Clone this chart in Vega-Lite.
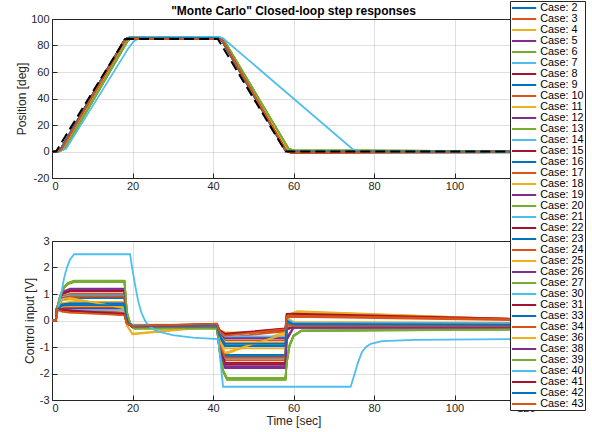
{
"$schema":"https://vega.github.io/schema/vega-lite/v6.json",
"padding":{"left":15,"top":0,"right":1,"bottom":2},
"bounds":"flush",
"spacing":63,
"config":{
 "font":"Liberation Sans",
 "view":{"stroke":"#262626","strokeWidth":1},
 "axis":{"domain":false,"grid":true,"gridColor":"#262626","gridOpacity":0.15,"gridWidth":1,"tickColor":"#262626","tickSize":-5,"tickWidth":1,"labelColor":"#262626","labelFontSize":11,"labelFont":"Liberation Sans","titleFont":"Liberation Sans","titleFontSize":12,"titleFontWeight":"normal","titleColor":"#262626","labelOverlap":false}
},
"datasets":{
"ref":[{"t":0,"v":0},{"t":1,"v":0},{"t":18.2,"v":85},{"t":41.2,"v":85},{"t":58,"v":0},{"t":120,"v":0}],
"pos":[
{"c":2,"t":0,"v":0},{"c":2,"t":1.2,"v":0},{"c":2,"t":2.2,"v":2},{"c":2,"t":18,"v":84},{"c":2,"t":18.8,"v":85.5},{"c":2,"t":41.3,"v":85.5},{"c":2,"t":42.2,"v":84},{"c":2,"t":58,"v":1},{"c":2,"t":59,"v":0},{"c":2,"t":120,"v":0},
{"c":3,"t":0,"v":0},{"c":3,"t":1.3,"v":0},{"c":3,"t":2.4,"v":2},{"c":3,"t":18.1,"v":84},{"c":3,"t":19,"v":85},{"c":3,"t":41.4,"v":85},{"c":3,"t":42.3,"v":84},{"c":3,"t":58.2,"v":0.5},{"c":3,"t":59.2,"v":-0.6},{"c":3,"t":120,"v":-0.5},
{"c":4,"t":0,"v":0},{"c":4,"t":1.4,"v":0},{"c":4,"t":2.6,"v":2},{"c":4,"t":18.3,"v":84},{"c":4,"t":19.2,"v":86},{"c":4,"t":41.5,"v":86},{"c":4,"t":42.4,"v":84},{"c":4,"t":58.4,"v":1.5},{"c":4,"t":59.5,"v":0.3},{"c":4,"t":120,"v":0.2},
{"c":5,"t":0,"v":0},{"c":5,"t":1.2,"v":0},{"c":5,"t":2.2,"v":2},{"c":5,"t":18,"v":84},{"c":5,"t":18.8,"v":85.5},{"c":5,"t":41.3,"v":85.5},{"c":5,"t":42.2,"v":84},{"c":5,"t":58,"v":1},{"c":5,"t":59,"v":0},{"c":5,"t":120,"v":0},
{"c":6,"t":0,"v":0},{"c":6,"t":1.6,"v":0},{"c":6,"t":3.2,"v":2},{"c":6,"t":18.8,"v":83.5},{"c":6,"t":19.8,"v":86},{"c":6,"t":41.7,"v":86},{"c":6,"t":42.7,"v":84},{"c":6,"t":58.8,"v":2},{"c":6,"t":60,"v":0.8},{"c":6,"t":120,"v":0.3},
{"c":7,"t":0,"v":0},{"c":7,"t":1.4,"v":0},{"c":7,"t":2.6,"v":2},{"c":7,"t":18.3,"v":84},{"c":7,"t":19.2,"v":86},{"c":7,"t":41.5,"v":86},{"c":7,"t":42.4,"v":84},{"c":7,"t":58.4,"v":1.5},{"c":7,"t":59.5,"v":0.3},{"c":7,"t":120,"v":0.2},
{"c":8,"t":0,"v":0},{"c":8,"t":1.3,"v":0},{"c":8,"t":2.4,"v":2},{"c":8,"t":18.1,"v":84},{"c":8,"t":19,"v":85},{"c":8,"t":41.4,"v":85},{"c":8,"t":42.3,"v":84},{"c":8,"t":58.2,"v":0.5},{"c":8,"t":59.2,"v":-0.6},{"c":8,"t":120,"v":-0.5},
{"c":9,"t":0,"v":0},{"c":9,"t":1.4,"v":0},{"c":9,"t":2.6,"v":2},{"c":9,"t":18.3,"v":84},{"c":9,"t":19.2,"v":86},{"c":9,"t":41.5,"v":86},{"c":9,"t":42.4,"v":84},{"c":9,"t":58.4,"v":1.5},{"c":9,"t":59.5,"v":0.3},{"c":9,"t":120,"v":0.2},
{"c":10,"t":0,"v":0},{"c":10,"t":1.2,"v":0},{"c":10,"t":2.2,"v":2},{"c":10,"t":18,"v":84},{"c":10,"t":18.8,"v":85.5},{"c":10,"t":41.3,"v":85.5},{"c":10,"t":42.2,"v":84},{"c":10,"t":58,"v":1},{"c":10,"t":59,"v":0},{"c":10,"t":120,"v":0},
{"c":11,"t":0,"v":0},{"c":11,"t":1.2,"v":0},{"c":11,"t":2.2,"v":2},{"c":11,"t":18,"v":84},{"c":11,"t":18.8,"v":85.5},{"c":11,"t":41.3,"v":85.5},{"c":11,"t":42.2,"v":84},{"c":11,"t":58,"v":1},{"c":11,"t":59,"v":0},{"c":11,"t":120,"v":0},
{"c":12,"t":0,"v":0},{"c":12,"t":1.4,"v":0},{"c":12,"t":2.6,"v":2},{"c":12,"t":18.3,"v":84},{"c":12,"t":19.2,"v":86},{"c":12,"t":41.5,"v":86},{"c":12,"t":42.4,"v":84},{"c":12,"t":58.4,"v":1.5},{"c":12,"t":59.5,"v":0.3},{"c":12,"t":120,"v":0.2},
{"c":13,"t":0,"v":0},{"c":13,"t":1.6,"v":0},{"c":13,"t":3.2,"v":2},{"c":13,"t":18.8,"v":83.5},{"c":13,"t":19.8,"v":86},{"c":13,"t":41.7,"v":86},{"c":13,"t":42.7,"v":84},{"c":13,"t":58.8,"v":2},{"c":13,"t":60,"v":0.8},{"c":13,"t":120,"v":0.3},
{"c":14,"t":0,"v":0},{"c":14,"t":1.4,"v":0},{"c":14,"t":2.6,"v":2},{"c":14,"t":18.3,"v":84},{"c":14,"t":19.2,"v":86},{"c":14,"t":41.5,"v":86},{"c":14,"t":42.4,"v":84},{"c":14,"t":58.4,"v":1.5},{"c":14,"t":59.5,"v":0.3},{"c":14,"t":120,"v":0.2},
{"c":15,"t":0,"v":0},{"c":15,"t":1.3,"v":0},{"c":15,"t":2.4,"v":2},{"c":15,"t":18.1,"v":84},{"c":15,"t":19,"v":85},{"c":15,"t":41.4,"v":85},{"c":15,"t":42.3,"v":84},{"c":15,"t":58.2,"v":0.5},{"c":15,"t":59.2,"v":-0.6},{"c":15,"t":120,"v":-0.5},
{"c":16,"t":0,"v":0},{"c":16,"t":1.2,"v":0},{"c":16,"t":2.2,"v":2},{"c":16,"t":18,"v":84},{"c":16,"t":18.8,"v":85.5},{"c":16,"t":41.3,"v":85.5},{"c":16,"t":42.2,"v":84},{"c":16,"t":58,"v":1},{"c":16,"t":59,"v":0},{"c":16,"t":120,"v":0},
{"c":17,"t":0,"v":0},{"c":17,"t":1.3,"v":0},{"c":17,"t":2.4,"v":2},{"c":17,"t":18.1,"v":84},{"c":17,"t":19,"v":85},{"c":17,"t":41.4,"v":85},{"c":17,"t":42.3,"v":84},{"c":17,"t":58.2,"v":0.5},{"c":17,"t":59.2,"v":-0.6},{"c":17,"t":120,"v":-0.5},
{"c":18,"t":0,"v":0},{"c":18,"t":1.4,"v":0},{"c":18,"t":2.6,"v":2},{"c":18,"t":18.3,"v":84},{"c":18,"t":19.2,"v":86},{"c":18,"t":41.5,"v":86},{"c":18,"t":42.4,"v":84},{"c":18,"t":58.4,"v":1.5},{"c":18,"t":59.5,"v":0.3},{"c":18,"t":120,"v":0.2},
{"c":19,"t":0,"v":0},{"c":19,"t":1.2,"v":0},{"c":19,"t":2.2,"v":2},{"c":19,"t":18,"v":84},{"c":19,"t":18.8,"v":85.5},{"c":19,"t":41.3,"v":85.5},{"c":19,"t":42.2,"v":84},{"c":19,"t":58,"v":1},{"c":19,"t":59,"v":0},{"c":19,"t":120,"v":0},
{"c":20,"t":0,"v":0},{"c":20,"t":1.6,"v":0},{"c":20,"t":3.2,"v":2},{"c":20,"t":18.8,"v":83.5},{"c":20,"t":19.8,"v":86},{"c":20,"t":41.7,"v":86},{"c":20,"t":42.7,"v":84},{"c":20,"t":58.8,"v":2},{"c":20,"t":60,"v":0.8},{"c":20,"t":120,"v":0.3},
{"c":21,"t":0,"v":0},{"c":21,"t":1.4,"v":0},{"c":21,"t":2.6,"v":2},{"c":21,"t":18.3,"v":84},{"c":21,"t":19.2,"v":86},{"c":21,"t":41.5,"v":86},{"c":21,"t":42.4,"v":84},{"c":21,"t":58.4,"v":1.5},{"c":21,"t":59.5,"v":0.3},{"c":21,"t":120,"v":0.2},
{"c":22,"t":0,"v":0},{"c":22,"t":1.2,"v":0},{"c":22,"t":2.2,"v":2},{"c":22,"t":18,"v":84},{"c":22,"t":18.8,"v":85.5},{"c":22,"t":41.3,"v":85.5},{"c":22,"t":42.2,"v":84},{"c":22,"t":58,"v":1},{"c":22,"t":59,"v":0},{"c":22,"t":120,"v":0},
{"c":23,"t":0,"v":0},{"c":23,"t":1.4,"v":0},{"c":23,"t":2.6,"v":2},{"c":23,"t":18.3,"v":84},{"c":23,"t":19.2,"v":86},{"c":23,"t":41.5,"v":86},{"c":23,"t":42.4,"v":84},{"c":23,"t":58.4,"v":1.5},{"c":23,"t":59.5,"v":0.3},{"c":23,"t":120,"v":0.2},
{"c":24,"t":0,"v":0},{"c":24,"t":1.4,"v":0},{"c":24,"t":2.6,"v":2},{"c":24,"t":18.3,"v":84},{"c":24,"t":19.2,"v":86},{"c":24,"t":41.5,"v":86},{"c":24,"t":42.4,"v":84},{"c":24,"t":58.4,"v":1.5},{"c":24,"t":59.5,"v":0.3},{"c":24,"t":120,"v":0.2},
{"c":25,"t":0,"v":0},{"c":25,"t":1.2,"v":0},{"c":25,"t":2.2,"v":2},{"c":25,"t":18,"v":84},{"c":25,"t":18.8,"v":85.5},{"c":25,"t":41.3,"v":85.5},{"c":25,"t":42.2,"v":84},{"c":25,"t":58,"v":1},{"c":25,"t":59,"v":0},{"c":25,"t":120,"v":0},
{"c":26,"t":0,"v":0},{"c":26,"t":1.4,"v":0},{"c":26,"t":2.6,"v":2},{"c":26,"t":18.3,"v":84},{"c":26,"t":19.2,"v":86},{"c":26,"t":41.5,"v":86},{"c":26,"t":42.4,"v":84},{"c":26,"t":58.4,"v":1.5},{"c":26,"t":59.5,"v":0.3},{"c":26,"t":120,"v":0.2},
{"c":27,"t":0,"v":0},{"c":27,"t":1.6,"v":0},{"c":27,"t":3.2,"v":2},{"c":27,"t":18.8,"v":83.5},{"c":27,"t":19.8,"v":86},{"c":27,"t":41.7,"v":86},{"c":27,"t":42.7,"v":84},{"c":27,"t":58.8,"v":2},{"c":27,"t":60,"v":0.8},{"c":27,"t":120,"v":0.3},
{"c":30,"t":0,"v":0},{"c":30,"t":1.4,"v":0},{"c":30,"t":2.6,"v":2},{"c":30,"t":18.3,"v":84},{"c":30,"t":19.2,"v":86},{"c":30,"t":41.5,"v":86},{"c":30,"t":42.4,"v":84},{"c":30,"t":58.4,"v":1.5},{"c":30,"t":59.5,"v":0.3},{"c":30,"t":120,"v":0.2},
{"c":31,"t":0,"v":0},{"c":31,"t":1.3,"v":0},{"c":31,"t":2.4,"v":2},{"c":31,"t":18.1,"v":84},{"c":31,"t":19,"v":85},{"c":31,"t":41.4,"v":85},{"c":31,"t":42.3,"v":84},{"c":31,"t":58.2,"v":0.5},{"c":31,"t":59.2,"v":-0.6},{"c":31,"t":120,"v":-0.5},
{"c":33,"t":0,"v":0},{"c":33,"t":1.2,"v":0},{"c":33,"t":2.2,"v":2},{"c":33,"t":18,"v":84},{"c":33,"t":18.8,"v":85.5},{"c":33,"t":41.3,"v":85.5},{"c":33,"t":42.2,"v":84},{"c":33,"t":58,"v":1},{"c":33,"t":59,"v":0},{"c":33,"t":120,"v":0},
{"c":34,"t":0,"v":0},{"c":34,"t":1.3,"v":0},{"c":34,"t":2.4,"v":2},{"c":34,"t":18.1,"v":84},{"c":34,"t":19,"v":85},{"c":34,"t":41.4,"v":85},{"c":34,"t":42.3,"v":84},{"c":34,"t":58.2,"v":0.5},{"c":34,"t":59.2,"v":-0.6},{"c":34,"t":120,"v":-0.5},
{"c":36,"t":0,"v":0},{"c":36,"t":1.4,"v":0},{"c":36,"t":2.6,"v":2},{"c":36,"t":18.3,"v":84},{"c":36,"t":19.2,"v":86},{"c":36,"t":41.5,"v":86},{"c":36,"t":42.4,"v":84},{"c":36,"t":58.4,"v":1.5},{"c":36,"t":59.5,"v":0.3},{"c":36,"t":120,"v":0.2},
{"c":38,"t":0,"v":0},{"c":38,"t":1.2,"v":0},{"c":38,"t":2.2,"v":2},{"c":38,"t":18,"v":84},{"c":38,"t":18.8,"v":85.5},{"c":38,"t":41.3,"v":85.5},{"c":38,"t":42.2,"v":84},{"c":38,"t":58,"v":1},{"c":38,"t":59,"v":0},{"c":38,"t":120,"v":0},
{"c":39,"t":0,"v":0},{"c":39,"t":1.6,"v":0},{"c":39,"t":3.2,"v":2},{"c":39,"t":18.8,"v":83.5},{"c":39,"t":19.8,"v":86},{"c":39,"t":41.7,"v":86},{"c":39,"t":42.7,"v":84},{"c":39,"t":58.8,"v":2},{"c":39,"t":60,"v":0.8},{"c":39,"t":120,"v":0.3},
{"c":40,"t":0,"v":0},{"c":40,"t":1.5,"v":0},{"c":40,"t":3.5,"v":2},{"c":40,"t":19,"v":78},{"c":40,"t":20.3,"v":83},{"c":40,"t":21.8,"v":86},{"c":40,"t":41.5,"v":86.5},{"c":40,"t":42.5,"v":85.5},{"c":40,"t":75,"v":1},{"c":40,"t":76.5,"v":-0.6},{"c":40,"t":85,"v":-1},{"c":40,"t":120,"v":-1},
{"c":41,"t":0,"v":0},{"c":41,"t":1.3,"v":0},{"c":41,"t":2.4,"v":2},{"c":41,"t":18.1,"v":84},{"c":41,"t":19,"v":85},{"c":41,"t":41.4,"v":85},{"c":41,"t":42.3,"v":84},{"c":41,"t":58.2,"v":0.5},{"c":41,"t":59.2,"v":-0.6},{"c":41,"t":120,"v":-0.5},
{"c":42,"t":0,"v":0},{"c":42,"t":1.2,"v":0},{"c":42,"t":2.2,"v":2},{"c":42,"t":18,"v":84},{"c":42,"t":18.8,"v":85.5},{"c":42,"t":41.3,"v":85.5},{"c":42,"t":42.2,"v":84},{"c":42,"t":58,"v":1},{"c":42,"t":59,"v":0},{"c":42,"t":120,"v":0},
{"c":43,"t":0,"v":0},{"c":43,"t":1.3,"v":0},{"c":43,"t":2.4,"v":2},{"c":43,"t":18.1,"v":84},{"c":43,"t":19,"v":85},{"c":43,"t":41.4,"v":85},{"c":43,"t":42.3,"v":84},{"c":43,"t":58.2,"v":0.5},{"c":43,"t":59.2,"v":-0.6},{"c":43,"t":120,"v":-0.5}
],
"u":[
{"c":2,"t":0,"v":0},{"c":2,"t":1,"v":0},{"c":2,"t":1.15,"v":0.4},{"c":2,"t":2.5,"v":0.58},{"c":2,"t":4.5,"v":0.62},{"c":2,"t":18,"v":0.62},{"c":2,"t":18.6,"v":-0.05},{"c":2,"t":20,"v":-0.19},{"c":2,"t":41,"v":-0.19},{"c":2,"t":41.6,"v":-0.6},{"c":2,"t":43,"v":-0.93},{"c":2,"t":58,"v":-0.93},{"c":2,"t":58.3,"v":-0.02},{"c":2,"t":60,"v":-0.14},{"c":2,"t":120,"v":-0.16},
{"c":3,"t":0,"v":0},{"c":3,"t":1,"v":0},{"c":3,"t":1.15,"v":0.42},{"c":3,"t":2.5,"v":0.85},{"c":3,"t":4.5,"v":0.92},{"c":3,"t":18,"v":0.92},{"c":3,"t":18.6,"v":-0.02},{"c":3,"t":20,"v":-0.23},{"c":3,"t":41,"v":-0.23},{"c":3,"t":41.6,"v":-0.85},{"c":3,"t":43,"v":-1.38},{"c":3,"t":58,"v":-1.38},{"c":3,"t":58.3,"v":-0.15},{"c":3,"t":60,"v":-0.2},{"c":3,"t":120,"v":-0.21},
{"c":4,"t":0,"v":0},{"c":4,"t":1,"v":0},{"c":4,"t":1.15,"v":0.45},{"c":4,"t":2.5,"v":0.76},{"c":4,"t":4.5,"v":0.8},{"c":4,"t":18,"v":0.42},{"c":4,"t":18.6,"v":-0.2},{"c":4,"t":20,"v":-0.52},{"c":4,"t":41,"v":-0.22},{"c":4,"t":41.6,"v":-0.8},{"c":4,"t":43,"v":-1.28},{"c":4,"t":58,"v":-0.42},{"c":4,"t":58.3,"v":0.2},{"c":4,"t":61,"v":0.35},{"c":4,"t":120,"v":0.02},
{"c":5,"t":0,"v":0},{"c":5,"t":1,"v":0},{"c":5,"t":1.15,"v":0.42},{"c":5,"t":2.5,"v":1.05},{"c":5,"t":4.5,"v":1.18},{"c":5,"t":18,"v":1.18},{"c":5,"t":18.6,"v":0.05},{"c":5,"t":20,"v":-0.26},{"c":5,"t":41,"v":-0.26},{"c":5,"t":41.6,"v":-1},{"c":5,"t":43,"v":-1.77},{"c":5,"t":58,"v":-1.77},{"c":5,"t":58.3,"v":-0.7},{"c":5,"t":60,"v":-0.27},{"c":5,"t":120,"v":-0.27},
{"c":6,"t":0,"v":0},{"c":6,"t":1,"v":0},{"c":6,"t":1.15,"v":0.4},{"c":6,"t":2,"v":0.9},{"c":6,"t":3,"v":1.25},{"c":6,"t":4,"v":1.4},{"c":6,"t":5.5,"v":1.48},{"c":6,"t":18,"v":1.48},{"c":6,"t":18.6,"v":0.3},{"c":6,"t":19.5,"v":-0.15},{"c":6,"t":20.5,"v":-0.3},{"c":6,"t":41,"v":-0.3},{"c":6,"t":41.6,"v":-1.1},{"c":6,"t":42.5,"v":-1.9},{"c":6,"t":43.5,"v":-2.2},{"c":6,"t":58,"v":-2.2},{"c":6,"t":58.3,"v":-1.6},{"c":6,"t":59,"v":-0.95},{"c":6,"t":60,"v":-0.58},{"c":6,"t":62,"v":-0.38},{"c":6,"t":120,"v":-0.33},
{"c":7,"t":0,"v":0},{"c":7,"t":1,"v":0},{"c":7,"t":1.15,"v":0.42},{"c":7,"t":2.5,"v":0.82},{"c":7,"t":4.5,"v":0.88},{"c":7,"t":18,"v":0.88},{"c":7,"t":18.6,"v":-0.02},{"c":7,"t":20,"v":-0.22},{"c":7,"t":41,"v":-0.22},{"c":7,"t":41.6,"v":-0.8},{"c":7,"t":43,"v":-1.32},{"c":7,"t":58,"v":-1.32},{"c":7,"t":58.3,"v":-0.12},{"c":7,"t":60,"v":-0.19},{"c":7,"t":120,"v":-0.21},
{"c":8,"t":0,"v":0},{"c":8,"t":1,"v":0},{"c":8,"t":1.15,"v":0.42},{"c":8,"t":2.5,"v":1},{"c":8,"t":4.5,"v":1.1},{"c":8,"t":18,"v":1.1},{"c":8,"t":18.6,"v":0.03},{"c":8,"t":20,"v":-0.25},{"c":8,"t":41,"v":-0.25},{"c":8,"t":41.6,"v":-0.98},{"c":8,"t":43,"v":-1.65},{"c":8,"t":58,"v":-1.65},{"c":8,"t":58.3,"v":-0.3},{"c":8,"t":60,"v":-0.24},{"c":8,"t":120,"v":-0.25},
{"c":9,"t":0,"v":0},{"c":9,"t":1,"v":0},{"c":9,"t":1.15,"v":0.42},{"c":9,"t":2.5,"v":0.8},{"c":9,"t":4.5,"v":0.85},{"c":9,"t":18,"v":0.85},{"c":9,"t":18.6,"v":-0.02},{"c":9,"t":20,"v":-0.22},{"c":9,"t":41,"v":-0.22},{"c":9,"t":41.6,"v":-0.8},{"c":9,"t":43,"v":-1.3},{"c":9,"t":58,"v":-1.3},{"c":9,"t":58.3,"v":-0.1},{"c":9,"t":60,"v":-0.18},{"c":9,"t":120,"v":-0.2},
{"c":10,"t":0,"v":0},{"c":10,"t":1,"v":0},{"c":10,"t":1.15,"v":0.42},{"c":10,"t":2.5,"v":0.48},{"c":10,"t":4.5,"v":0.5},{"c":10,"t":18,"v":0.5},{"c":10,"t":18.6,"v":-0.06},{"c":10,"t":20,"v":-0.18},{"c":10,"t":41,"v":-0.18},{"c":10,"t":41.6,"v":-0.5},{"c":10,"t":43,"v":-0.75},{"c":10,"t":58,"v":-0.75},{"c":10,"t":58.3,"v":0.05},{"c":10,"t":60,"v":-0.1},{"c":10,"t":120,"v":-0.13},
{"c":11,"t":0,"v":0},{"c":11,"t":1,"v":0},{"c":11,"t":1.15,"v":0.42},{"c":11,"t":2.5,"v":0.65},{"c":11,"t":4.5,"v":0.7},{"c":11,"t":18,"v":0.7},{"c":11,"t":18.6,"v":-0.04},{"c":11,"t":20,"v":-0.2},{"c":11,"t":41,"v":-0.2},{"c":11,"t":41.6,"v":-0.65},{"c":11,"t":43,"v":-1.05},{"c":11,"t":58,"v":-1.05},{"c":11,"t":58.3,"v":-0.05},{"c":11,"t":60,"v":-0.15},{"c":11,"t":120,"v":-0.17},
{"c":12,"t":0,"v":0},{"c":12,"t":1,"v":0},{"c":12,"t":1.15,"v":0.4},{"c":12,"t":2.5,"v":0.42},{"c":12,"t":4.5,"v":0.42},{"c":12,"t":18,"v":0.42},{"c":12,"t":18.6,"v":-0.07},{"c":12,"t":20,"v":-0.17},{"c":12,"t":41,"v":-0.17},{"c":12,"t":41.6,"v":-0.45},{"c":12,"t":43,"v":-0.63},{"c":12,"t":58,"v":-0.63},{"c":12,"t":58.3,"v":0.05},{"c":12,"t":60,"v":-0.1},{"c":12,"t":120,"v":-0.12},
{"c":13,"t":0,"v":0},{"c":13,"t":1,"v":0},{"c":13,"t":1.15,"v":0.4},{"c":13,"t":2,"v":0.88},{"c":13,"t":3,"v":1.22},{"c":13,"t":4,"v":1.37},{"c":13,"t":5.5,"v":1.45},{"c":13,"t":18,"v":1.45},{"c":13,"t":18.6,"v":0.28},{"c":13,"t":19.5,"v":-0.15},{"c":13,"t":20.5,"v":-0.29},{"c":13,"t":41,"v":-0.29},{"c":13,"t":41.6,"v":-1.08},{"c":13,"t":42.5,"v":-1.87},{"c":13,"t":43.5,"v":-2.17},{"c":13,"t":58,"v":-2.17},{"c":13,"t":58.3,"v":-1.55},{"c":13,"t":59,"v":-0.92},{"c":13,"t":60,"v":-0.56},{"c":13,"t":62,"v":-0.37},{"c":13,"t":120,"v":-0.32},
{"c":14,"t":0,"v":0},{"c":14,"t":1,"v":0},{"c":14,"t":1.15,"v":0.4},{"c":14,"t":2.5,"v":0.57},{"c":14,"t":4.5,"v":0.6},{"c":14,"t":18,"v":0.6},{"c":14,"t":18.6,"v":-0.05},{"c":14,"t":20,"v":-0.19},{"c":14,"t":41,"v":-0.19},{"c":14,"t":41.6,"v":-0.58},{"c":14,"t":43,"v":-0.9},{"c":14,"t":58,"v":-0.9},{"c":14,"t":58.3,"v":-0.02},{"c":14,"t":60,"v":-0.14},{"c":14,"t":120,"v":-0.16},
{"c":15,"t":0,"v":0},{"c":15,"t":1,"v":0},{"c":15,"t":1.15,"v":0.42},{"c":15,"t":2.5,"v":0.38},{"c":15,"t":4.5,"v":0.35},{"c":15,"t":18,"v":0.22},{"c":15,"t":18.6,"v":-0.12},{"c":15,"t":20,"v":-0.22},{"c":15,"t":41,"v":-0.14},{"c":15,"t":41.6,"v":-0.38},{"c":15,"t":43,"v":-0.52},{"c":15,"t":58,"v":-0.32},{"c":15,"t":58.3,"v":0.15},{"c":15,"t":60,"v":0.18},{"c":15,"t":120,"v":0.05},
{"c":16,"t":0,"v":0},{"c":16,"t":1,"v":0},{"c":16,"t":1.15,"v":0.4},{"c":16,"t":2.5,"v":0.6},{"c":16,"t":4.5,"v":0.64},{"c":16,"t":18,"v":0.64},{"c":16,"t":18.6,"v":-0.05},{"c":16,"t":20,"v":-0.2},{"c":16,"t":41,"v":-0.2},{"c":16,"t":41.6,"v":-0.6},{"c":16,"t":43,"v":-0.95},{"c":16,"t":58,"v":-0.95},{"c":16,"t":58.3,"v":-0.03},{"c":16,"t":60,"v":-0.15},{"c":16,"t":120,"v":-0.17},
{"c":17,"t":0,"v":0},{"c":17,"t":1,"v":0},{"c":17,"t":1.15,"v":0.42},{"c":17,"t":2.5,"v":0.92},{"c":17,"t":4.5,"v":1},{"c":17,"t":18,"v":1},{"c":17,"t":18.6,"v":0},{"c":17,"t":20,"v":-0.24},{"c":17,"t":41,"v":-0.24},{"c":17,"t":41.6,"v":-0.9},{"c":17,"t":43,"v":-1.5},{"c":17,"t":58,"v":-1.5},{"c":17,"t":58.3,"v":-0.22},{"c":17,"t":60,"v":-0.22},{"c":17,"t":120,"v":-0.23},
{"c":18,"t":0,"v":0},{"c":18,"t":1,"v":0},{"c":18,"t":1.15,"v":0.4},{"c":18,"t":2.5,"v":0.33},{"c":18,"t":4.5,"v":0.3},{"c":18,"t":18,"v":0.3},{"c":18,"t":18.6,"v":-0.1},{"c":18,"t":20,"v":-0.16},{"c":18,"t":41,"v":-0.16},{"c":18,"t":41.6,"v":-0.35},{"c":18,"t":43,"v":-0.45},{"c":18,"t":58,"v":-0.45},{"c":18,"t":58.3,"v":0.1},{"c":18,"t":60,"v":-0.05},{"c":18,"t":120,"v":-0.1},
{"c":19,"t":0,"v":0},{"c":19,"t":1,"v":0},{"c":19,"t":1.15,"v":0.42},{"c":19,"t":2.5,"v":1.03},{"c":19,"t":4.5,"v":1.15},{"c":19,"t":18,"v":1.15},{"c":19,"t":18.6,"v":0.04},{"c":19,"t":20,"v":-0.26},{"c":19,"t":41,"v":-0.26},{"c":19,"t":41.6,"v":-1},{"c":19,"t":43,"v":-1.72},{"c":19,"t":58,"v":-1.72},{"c":19,"t":58.3,"v":-0.65},{"c":19,"t":60,"v":-0.27},{"c":19,"t":120,"v":-0.26},
{"c":20,"t":0,"v":0},{"c":20,"t":1,"v":0},{"c":20,"t":1.15,"v":0.4},{"c":20,"t":2,"v":0.92},{"c":20,"t":3,"v":1.27},{"c":20,"t":4,"v":1.42},{"c":20,"t":5.5,"v":1.5},{"c":20,"t":18,"v":1.5},{"c":20,"t":18.6,"v":0.32},{"c":20,"t":19.5,"v":-0.14},{"c":20,"t":20.5,"v":-0.31},{"c":20,"t":41,"v":-0.31},{"c":20,"t":41.6,"v":-1.12},{"c":20,"t":42.5,"v":-1.93},{"c":20,"t":43.5,"v":-2.24},{"c":20,"t":58,"v":-2.24},{"c":20,"t":58.3,"v":-1.65},{"c":20,"t":59,"v":-0.98},{"c":20,"t":60,"v":-0.6},{"c":20,"t":62,"v":-0.4},{"c":20,"t":120,"v":-0.34},
{"c":21,"t":0,"v":0},{"c":21,"t":1,"v":0},{"c":21,"t":1.15,"v":0.42},{"c":21,"t":2.5,"v":0.88},{"c":21,"t":4.5,"v":0.95},{"c":21,"t":18,"v":0.95},{"c":21,"t":18.6,"v":-0.01},{"c":21,"t":20,"v":-0.23},{"c":21,"t":41,"v":-0.23},{"c":21,"t":41.6,"v":-0.87},{"c":21,"t":43,"v":-1.42},{"c":21,"t":58,"v":-1.42},{"c":21,"t":58.3,"v":-0.17},{"c":21,"t":60,"v":-0.21},{"c":21,"t":120,"v":-0.22},
{"c":22,"t":0,"v":0},{"c":22,"t":1,"v":0},{"c":22,"t":1.15,"v":0.42},{"c":22,"t":2.5,"v":1},{"c":22,"t":4.5,"v":1.12},{"c":22,"t":18,"v":1.12},{"c":22,"t":18.6,"v":0.03},{"c":22,"t":20,"v":-0.25},{"c":22,"t":41,"v":-0.25},{"c":22,"t":41.6,"v":-0.98},{"c":22,"t":43,"v":-1.6},{"c":22,"t":58,"v":-1.6},{"c":22,"t":58.3,"v":-0.35},{"c":22,"t":60,"v":-0.25},{"c":22,"t":120,"v":-0.25},
{"c":23,"t":0,"v":0},{"c":23,"t":1,"v":0},{"c":23,"t":1.15,"v":0.42},{"c":23,"t":2.5,"v":0.84},{"c":23,"t":4.5,"v":0.9},{"c":23,"t":18,"v":0.9},{"c":23,"t":18.6,"v":-0.02},{"c":23,"t":20,"v":-0.22},{"c":23,"t":41,"v":-0.22},{"c":23,"t":41.6,"v":-0.82},{"c":23,"t":43,"v":-1.35},{"c":23,"t":58,"v":-1.35},{"c":23,"t":58.3,"v":-0.13},{"c":23,"t":60,"v":-0.2},{"c":23,"t":120,"v":-0.21},
{"c":24,"t":0,"v":0},{"c":24,"t":1,"v":0},{"c":24,"t":1.15,"v":0.45},{"c":24,"t":2.5,"v":0.45},{"c":24,"t":4.5,"v":0.43},{"c":24,"t":18,"v":0.3},{"c":24,"t":18.6,"v":-0.1},{"c":24,"t":20,"v":-0.24},{"c":24,"t":41,"v":-0.16},{"c":24,"t":41.6,"v":-0.45},{"c":24,"t":43,"v":-0.65},{"c":24,"t":58,"v":-0.4},{"c":24,"t":58.3,"v":0.12},{"c":24,"t":60,"v":0.14},{"c":24,"t":120,"v":0},
{"c":25,"t":0,"v":0},{"c":25,"t":1,"v":0},{"c":25,"t":1.15,"v":0.42},{"c":25,"t":2.5,"v":0.53},{"c":25,"t":4.5,"v":0.55},{"c":25,"t":18,"v":0.55},{"c":25,"t":18.6,"v":-0.05},{"c":25,"t":20,"v":-0.18},{"c":25,"t":41,"v":-0.18},{"c":25,"t":41.6,"v":-0.52},{"c":25,"t":43,"v":-0.83},{"c":25,"t":58,"v":-0.83},{"c":25,"t":58.3,"v":0},{"c":25,"t":60,"v":-0.12},{"c":25,"t":120,"v":-0.14},
{"c":26,"t":0,"v":0},{"c":26,"t":1,"v":0},{"c":26,"t":1.15,"v":0.4},{"c":26,"t":2.5,"v":0.44},{"c":26,"t":4.5,"v":0.45},{"c":26,"t":18,"v":0.45},{"c":26,"t":18.6,"v":-0.07},{"c":26,"t":20,"v":-0.17},{"c":26,"t":41,"v":-0.17},{"c":26,"t":41.6,"v":-0.46},{"c":26,"t":43,"v":-0.67},{"c":26,"t":58,"v":-0.67},{"c":26,"t":58.3,"v":0.03},{"c":26,"t":60,"v":-0.1},{"c":26,"t":120,"v":-0.12},
{"c":27,"t":0,"v":0},{"c":27,"t":1,"v":0},{"c":27,"t":1.15,"v":0.4},{"c":27,"t":2,"v":0.9},{"c":27,"t":3,"v":1.24},{"c":27,"t":4,"v":1.39},{"c":27,"t":5.5,"v":1.47},{"c":27,"t":18,"v":1.47},{"c":27,"t":18.6,"v":0.3},{"c":27,"t":19.5,"v":-0.15},{"c":27,"t":20.5,"v":-0.3},{"c":27,"t":41,"v":-0.3},{"c":27,"t":41.6,"v":-1.1},{"c":27,"t":42.5,"v":-1.9},{"c":27,"t":43.5,"v":-2.2},{"c":27,"t":58,"v":-2.2},{"c":27,"t":58.3,"v":-1.58},{"c":27,"t":59,"v":-0.94},{"c":27,"t":60,"v":-0.57},{"c":27,"t":62,"v":-0.38},{"c":27,"t":120,"v":-0.33},
{"c":30,"t":0,"v":0},{"c":30,"t":1,"v":0},{"c":30,"t":1.15,"v":0.4},{"c":30,"t":2.5,"v":0.4},{"c":30,"t":4.5,"v":0.4},{"c":30,"t":18,"v":0.4},{"c":30,"t":18.6,"v":-0.07},{"c":30,"t":20,"v":-0.17},{"c":30,"t":41,"v":-0.17},{"c":30,"t":41.6,"v":-0.42},{"c":30,"t":43,"v":-0.6},{"c":30,"t":58,"v":-0.6},{"c":30,"t":58.3,"v":0.05},{"c":30,"t":60,"v":-0.09},{"c":30,"t":120,"v":-0.11},
{"c":31,"t":0,"v":0},{"c":31,"t":1,"v":0},{"c":31,"t":1.15,"v":0.43},{"c":31,"t":2.5,"v":0.4},{"c":31,"t":4.5,"v":0.37},{"c":31,"t":18,"v":0.2},{"c":31,"t":18.6,"v":-0.13},{"c":31,"t":20,"v":-0.21},{"c":31,"t":41,"v":-0.12},{"c":31,"t":41.6,"v":-0.36},{"c":31,"t":43,"v":-0.5},{"c":31,"t":58,"v":-0.3},{"c":31,"t":58.3,"v":0.2},{"c":31,"t":60,"v":0.22},{"c":31,"t":120,"v":0.04},
{"c":33,"t":0,"v":0},{"c":33,"t":1,"v":0},{"c":33,"t":1.15,"v":0.4},{"c":33,"t":2.5,"v":0.61},{"c":33,"t":4.5,"v":0.65},{"c":33,"t":18,"v":0.65},{"c":33,"t":18.6,"v":-0.05},{"c":33,"t":20,"v":-0.2},{"c":33,"t":41,"v":-0.2},{"c":33,"t":41.6,"v":-0.6},{"c":33,"t":43,"v":-0.97},{"c":33,"t":58,"v":-0.97},{"c":33,"t":58.3,"v":-0.04},{"c":33,"t":60,"v":-0.15},{"c":33,"t":120,"v":-0.17},
{"c":34,"t":0,"v":0},{"c":34,"t":1,"v":0},{"c":34,"t":1.15,"v":0.42},{"c":34,"t":2.5,"v":0.84},{"c":34,"t":4.5,"v":0.9},{"c":34,"t":18,"v":0.9},{"c":34,"t":18.6,"v":-0.02},{"c":34,"t":20,"v":-0.22},{"c":34,"t":41,"v":-0.22},{"c":34,"t":41.6,"v":-0.85},{"c":34,"t":43,"v":-1.4},{"c":34,"t":58,"v":-1.4},{"c":34,"t":58.3,"v":-0.14},{"c":34,"t":60,"v":-0.2},{"c":34,"t":120,"v":-0.21},
{"c":36,"t":0,"v":0},{"c":36,"t":1,"v":0},{"c":36,"t":1.15,"v":0.45},{"c":36,"t":2.5,"v":0.8},{"c":36,"t":4.5,"v":0.85},{"c":36,"t":18,"v":0.46},{"c":36,"t":18.6,"v":-0.18},{"c":36,"t":20,"v":-0.5},{"c":36,"t":41,"v":-0.2},{"c":36,"t":41.6,"v":-0.75},{"c":36,"t":43,"v":-1.22},{"c":36,"t":58,"v":-0.5},{"c":36,"t":58.3,"v":0.18},{"c":36,"t":61,"v":0.32},{"c":36,"t":120,"v":0.03},
{"c":38,"t":0,"v":0},{"c":38,"t":1,"v":0},{"c":38,"t":1.15,"v":0.42},{"c":38,"t":2.5,"v":1.07},{"c":38,"t":4.5,"v":1.2},{"c":38,"t":18,"v":1.2},{"c":38,"t":18.6,"v":0.05},{"c":38,"t":20,"v":-0.26},{"c":38,"t":41,"v":-0.26},{"c":38,"t":41.6,"v":-1.03},{"c":38,"t":43,"v":-1.8},{"c":38,"t":58,"v":-1.8},{"c":38,"t":58.3,"v":-0.75},{"c":38,"t":60,"v":-0.28},{"c":38,"t":120,"v":-0.27},
{"c":39,"t":0,"v":0},{"c":39,"t":1,"v":0},{"c":39,"t":1.15,"v":0.4},{"c":39,"t":2,"v":0.91},{"c":39,"t":3,"v":1.26},{"c":39,"t":4,"v":1.41},{"c":39,"t":5.5,"v":1.49},{"c":39,"t":18,"v":1.49},{"c":39,"t":18.6,"v":0.31},{"c":39,"t":19.5,"v":-0.14},{"c":39,"t":20.5,"v":-0.3},{"c":39,"t":41,"v":-0.3},{"c":39,"t":41.6,"v":-1.12},{"c":39,"t":42.5,"v":-1.92},{"c":39,"t":43.5,"v":-2.23},{"c":39,"t":58,"v":-2.23},{"c":39,"t":58.3,"v":-1.62},{"c":39,"t":59,"v":-0.96},{"c":39,"t":60,"v":-0.59},{"c":39,"t":62,"v":-0.39},{"c":39,"t":120,"v":-0.34},
{"c":40,"t":0,"v":0},{"c":40,"t":1,"v":0},{"c":40,"t":1.5,"v":0.4},{"c":40,"t":2.4,"v":1.1},{"c":40,"t":3,"v":1.6},{"c":40,"t":3.7,"v":2},{"c":40,"t":4.5,"v":2.3},{"c":40,"t":5.5,"v":2.5},{"c":40,"t":19.4,"v":2.5},{"c":40,"t":20,"v":1.9},{"c":40,"t":20.7,"v":1.3},{"c":40,"t":21.4,"v":0.74},{"c":40,"t":22.2,"v":0.3},{"c":40,"t":23.1,"v":0},{"c":40,"t":24,"v":-0.2},{"c":40,"t":26,"v":-0.4},{"c":40,"t":30,"v":-0.55},{"c":40,"t":35,"v":-0.65},{"c":40,"t":41.3,"v":-0.7},{"c":40,"t":42.5,"v":-2.5},{"c":40,"t":74.2,"v":-2.5},{"c":40,"t":75,"v":-2.1},{"c":40,"t":76,"v":-1.6},{"c":40,"t":77,"v":-1.2},{"c":40,"t":78,"v":-1},{"c":40,"t":79.2,"v":-0.88},{"c":40,"t":82,"v":-0.78},{"c":40,"t":90,"v":-0.73},{"c":40,"t":120,"v":-0.7},
{"c":41,"t":0,"v":0},{"c":41,"t":1,"v":0},{"c":41,"t":1.15,"v":0.42},{"c":41,"t":2.5,"v":0.4},{"c":41,"t":4.5,"v":0.38},{"c":41,"t":18,"v":0.25},{"c":41,"t":18.6,"v":-0.11},{"c":41,"t":20,"v":-0.22},{"c":41,"t":41,"v":-0.15},{"c":41,"t":41.6,"v":-0.38},{"c":41,"t":43,"v":-0.55},{"c":41,"t":58,"v":-0.35},{"c":41,"t":58.3,"v":0.25},{"c":41,"t":60,"v":0.26},{"c":41,"t":120,"v":0.05},
{"c":42,"t":0,"v":0},{"c":42,"t":1,"v":0},{"c":42,"t":1.15,"v":0.4},{"c":42,"t":2.5,"v":0.56},{"c":42,"t":4.5,"v":0.58},{"c":42,"t":18,"v":0.58},{"c":42,"t":18.6,"v":-0.05},{"c":42,"t":20,"v":-0.19},{"c":42,"t":41,"v":-0.19},{"c":42,"t":41.6,"v":-0.55},{"c":42,"t":43,"v":-0.87},{"c":42,"t":58,"v":-0.87},{"c":42,"t":58.3,"v":-0.01},{"c":42,"t":60,"v":-0.14},{"c":42,"t":120,"v":-0.16},
{"c":43,"t":0,"v":0},{"c":43,"t":1,"v":0},{"c":43,"t":1.15,"v":0.42},{"c":43,"t":2.5,"v":0.34},{"c":43,"t":4.5,"v":0.3},{"c":43,"t":18,"v":0.2},{"c":43,"t":18.6,"v":-0.12},{"c":43,"t":20,"v":-0.2},{"c":43,"t":41,"v":-0.13},{"c":43,"t":41.6,"v":-0.4},{"c":43,"t":43,"v":-0.57},{"c":43,"t":58,"v":-0.33},{"c":43,"t":58.3,"v":0.17},{"c":43,"t":60,"v":0.18},{"c":43,"t":120,"v":0.04}
]
},
"vconcat":[
{
 "width":483,"height":159,
 "title":{"text":"\"Monte Carlo\" Closed-loop step responses","fontSize":12,"fontWeight":"bold","color":"#000000","offset":-5,"frame":"group","anchor":"middle"},
 "layer":[
  {"data":{"name":"pos"},"mark":{"type":"line","strokeWidth":1.8},
   "encoding":{
    "x":{"field":"t","type":"quantitative","scale":{"domain":[0,120],"nice":false},"axis":{"values":[0,20,40,60,80,100,120],"title":null,"labelExpr":"''+datum.value","labelPadding":7,"labelOverlap":false}},
    "y":{"field":"v","type":"quantitative","scale":{"domain":[-20,100],"nice":false},"axis":{"values":[-20,0,20,40,60,80,100],"title":"Position [deg]","titlePadding":2,"labelExpr":"''+datum.value","labelPadding":8,"labelOverlap":false,"labelFlush":false}},
    "color":{"field":"c","type":"nominal",
     "scale":{"domain":[2,3,4,5,6,7,8,9,10,11,12,13,14,15,16,17,18,19,20,21,22,23,24,25,26,27,30,31,33,34,36,38,39,40,41,42,43],
      "range":["#0072BD","#D95319","#EDB120","#7E2F8E","#77AC30","#4DBEEE","#A2142F","#0072BD","#D95319","#EDB120","#7E2F8E","#77AC30","#4DBEEE","#A2142F","#0072BD","#D95319","#EDB120","#7E2F8E","#77AC30","#4DBEEE","#A2142F","#0072BD","#D95319","#EDB120","#7E2F8E","#77AC30","#4DBEEE","#A2142F","#0072BD","#D95319","#EDB120","#7E2F8E","#77AC30","#4DBEEE","#A2142F","#0072BD","#D95319"]},
     "legend":{"title":null,"orient":"none","legendX":458,"legendY":-18,"symbolType":"M-1,0H3.84","symbolSize":100,"symbolStrokeWidth":2,"symbolLimit":50,"labelExpr":"'Case: ' + datum.label","labelFontSize":10.8,"labelFont":"Liberation Sans","labelColor":"#000000","rowPadding":0,"padding":1,"fillColor":"#ffffff","strokeColor":"#262626","labelOffset":17.2,"labelLimit":200,"direction":"vertical"}}
   }},
  {"data":{"name":"ref"},"mark":{"type":"line","color":"#000000","strokeWidth":2,"strokeDash":[10,5]},
   "encoding":{
    "x":{"field":"t","type":"quantitative","axis":{"values":[0,20,40,60,80,100,120],"title":null,"labelExpr":"''+datum.value","labelPadding":7,"labelOverlap":false}},
    "y":{"field":"v","type":"quantitative","axis":{"values":[-20,0,20,40,60,80,100],"title":"Position [deg]","titlePadding":2,"labelExpr":"''+datum.value","labelPadding":8,"labelOverlap":false,"labelFlush":false}}
   }}
 ]
},
{
 "width":483,"height":159,
 "data":{"name":"u"},
 "mark":{"type":"line","strokeWidth":1.8},
 "encoding":{
  "x":{"field":"t","type":"quantitative","scale":{"domain":[0,120],"nice":false},"axis":{"values":[0,20,40,60,80,100,120],"title":"Time [sec]","titlePadding":2,"labelExpr":"''+datum.value","labelPadding":7,"labelOverlap":false}},
  "y":{"field":"v","type":"quantitative","scale":{"domain":[-3,3],"nice":false},"axis":{"values":[-3,-2,-1,0,1,2,3],"title":"Control input [V]","titlePadding":3,"labelExpr":"''+datum.value","labelPadding":8,"labelOverlap":false,"labelFlush":false}},
  "color":{"field":"c","type":"nominal"}
 }
}
]
}
